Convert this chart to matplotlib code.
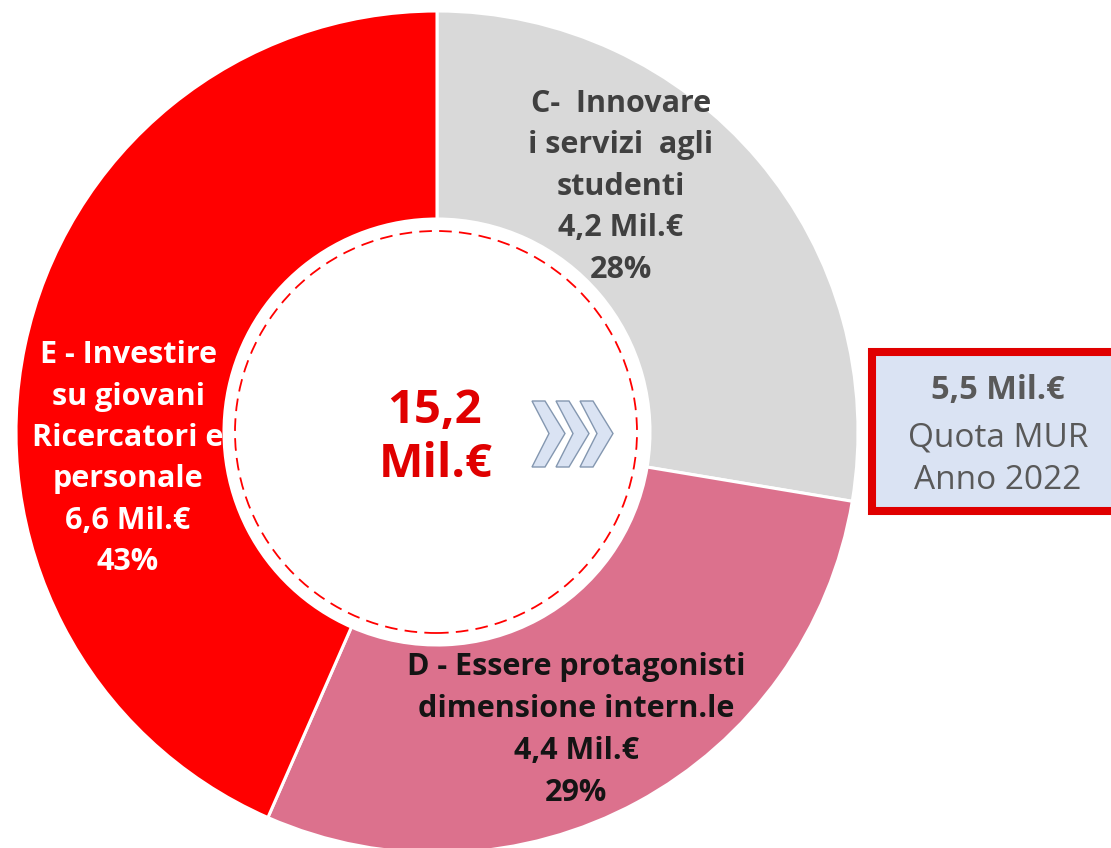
import matplotlib
matplotlib.use('Agg')
import matplotlib.pyplot as plt
from matplotlib.patches import Circle, Polygon, Rectangle

# ---- data ----
categories = ["C-  Innovare|i servizi  agli|studenti",
              "D - Essere protagonisti|dimensione intern.le",
              "E - Investire|su giovani|Ricercatori e|personale"]
values = [4.2, 4.4, 6.6]
amount_labels = ["4,2 Mil.€", "4,4 Mil.€", "6,6 Mil.€"]
pct_labels = ["28%", "29%", "43%"]
total_lines = ["15,2", "Mil.€"]
mur_value = "5,5 Mil.€"
mur_lines = ["Quota MUR", "Anno 2022"]

# ---- style ----
colors = ['#D9D9D9', '#DC718D', '#FF0000']
text_colors = ['#404040', '#141414', '#FFFFFF']
FONT = 'Open Sans'

W, H = 1111, 848
fig = plt.figure(figsize=(W / 100, H / 100), dpi=100)
ax = fig.add_axes([0, 0, 1, 1])

def Y(y):
    return H - y

cx, cy = 437, 432
R_out, R_in = 421, 213
ax.pie(values, radius=R_out, center=(cx, Y(cy)), startangle=90, counterclock=False,
       colors=colors, wedgeprops=dict(width=R_out - R_in, edgecolor='white', linewidth=2.2),
       frame=True)
ax.set_xlim(0, W)
ax.set_ylim(0, H)
ax.set_aspect('equal')
ax.axis('off')

# dashed inner circle
ax.add_patch(Circle((cx - 1, Y(cy)), 201, fill=False, edgecolor='#FF0000', lw=1.3,
                    linestyle=(0, (7, 4))))

# label positions (center x, first baseline y, line step)
label_pos = [(621, 112, 41.5), (576, 675, 42), (128, 363, 41.5)]
for i in range(3):
    lines = categories[i].split('|') + [amount_labels[i], pct_labels[i]]
    x0, y0, step = label_pos[i]
    for k, ln in enumerate(lines):
        ax.text(x0, Y(y0 + k * step), ln, ha='center', va='baseline', fontsize=22,
                fontweight='bold', color=text_colors[i], family=FONT)

# center total
ax.text(435, Y(423), total_lines[0], ha='center', va='baseline', fontsize=34,
        fontweight='bold', color='#E00000', family=FONT)
ax.text(436, Y(477), total_lines[1], ha='center', va='baseline', fontsize=34,
        fontweight='bold', color='#E00000', family=FONT)

# chevrons
for off in [0, 24, 48]:
    pts = [(532 + off, 401), (545 + off, 401), (565 + off, 433.5), (545 + off, 467),
           (532 + off, 467), (549 + off, 433.5)]
    ax.add_patch(Polygon([(x, Y(y)) for x, y in pts], closed=True, facecolor='#DAE3F3',
                         edgecolor='#8497B0', lw=1.0))

# MUR box
ax.add_patch(Rectangle((872, Y(511)), 260, 159, facecolor='#DAE3F3', edgecolor='#E00000',
                       lw=5.8, clip_on=True))
ax.text(998, Y(399), mur_value, ha='center', va='baseline', fontsize=23.5,
        fontweight='bold', color='#595959', family=FONT)
ax.text(998, Y(446), mur_lines[0], ha='center', va='baseline', fontsize=24,
        color='#595959', family=FONT)
ax.text(998, Y(489), mur_lines[1], ha='center', va='baseline', fontsize=24,
        color='#595959', family=FONT)

fig.savefig('out.png', dpi=100, facecolor='white')
